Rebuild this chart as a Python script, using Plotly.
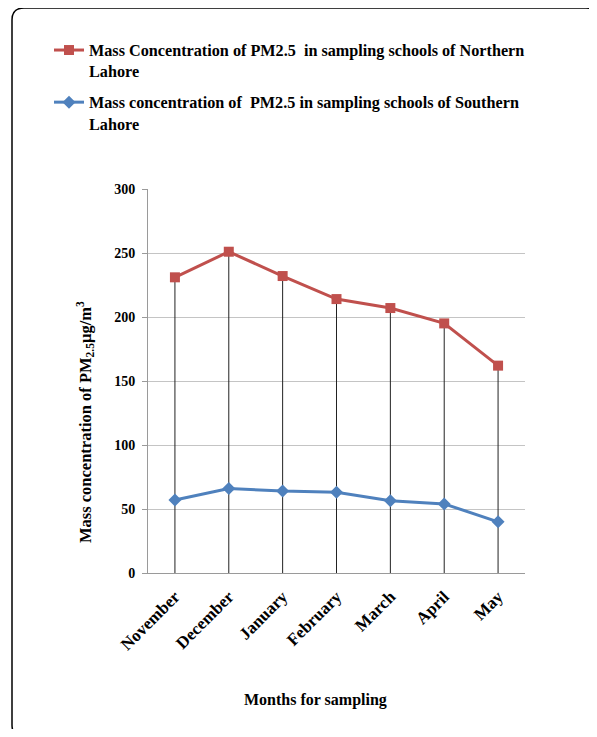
import plotly.graph_objects as go

months = ["November", "December", "January", "February", "March", "April", "May"]
northern = [231, 251, 232, 214, 207, 195, 162]
southern = [57, 66, 64, 63, 56.5, 54, 40]
name_north = "Mass Concentration of PM2.5  in sampling schools of Northern<br>Lahore"
name_south = "Mass concentration of  PM2.5 in sampling schools of Southern<br>Lahore"
y_ticks = [0, 50, 100, 150, 200, 250, 300]

OFF = 8  # page body margin
W, H = 597 - 2 * OFF, 737 - 2 * OFF
ML, MT = 148 - OFF, 189 - OFF
PW, PH = 377, 384
MR, MB = W - ML - PW, H - MT - PH

def px(x):
    return (x - OFF - ML) / PW

def py(y):
    return (H - MB - (y - OFF)) / PH

FONT = "Liberation Serif, Times New Roman, serif"

fig = go.Figure()

# high-low drop lines from the northern value to zero
dx, dy = [], []
for m, v in zip(months, northern):
    dx += [m, m, None]
    dy += [0, v, None]
fig.add_trace(go.Scatter(x=dx, y=dy, mode="lines", line=dict(color="#222222", width=1),
                         showlegend=False, hoverinfo="skip"))

fig.add_trace(go.Scatter(x=months, y=northern, name=name_north, mode="lines+markers",
                         line=dict(color="#C0504D", width=3),
                         marker=dict(symbol="square", size=10, color="#C0504D"),
                         legendgroup="n"))
fig.add_trace(go.Scatter(x=months, y=southern, name=name_south, mode="lines+markers",
                         line=dict(color="#4F81BD", width=3),
                         marker=dict(symbol="diamond", size=10, color="#4F81BD"),
                         legendgroup="s"))

# rounded frame
x0, x1, y0, y1 = px(12), px(598), py(737), py(8)
rx, ry = 12 / PW, 12 / PH
path = (f"M {x0+rx},{y1} L {x1-rx},{y1} Q {x1},{y1} {x1},{y1-ry} "
        f"L {x1},{y0+ry} Q {x1},{y0} {x1-rx},{y0} L {x0+rx},{y0} "
        f"Q {x0},{y0} {x0},{y0+ry} L {x0},{y1-ry} Q {x0},{y1} {x0+rx},{y1} Z")

fig.update_layout(
    width=W, height=H,
    margin=dict(l=ML, r=MR, t=MT, b=MB),
    paper_bgcolor="white", plot_bgcolor="white",
    font=dict(family=FONT, color="black", size=14, weight="bold"),
    shapes=[dict(type="path", xref="paper", yref="paper", path=path,
                 line=dict(color="black", width=1.5), layer="below")],
    legend=dict(x=px(49), y=py(33), xanchor="left", yanchor="top",
                font=dict(family=FONT, size=16.2, weight="bold"),
                traceorder="grouped", tracegroupgap=7, valign="top",
                bgcolor="rgba(0,0,0,0)"),
    showlegend=True,
    annotations=[
        dict(text="Months for sampling", xref="paper", yref="paper",
             x=px(315), y=py(700), xanchor="center", yanchor="middle", showarrow=False,
             font=dict(family=FONT, size=16, weight="bold")),
        dict(text="Mass concentration of PM<sub>2.5</sub>µg/m<sup>3</sup>",
             xref="paper", yref="paper", x=px(85), y=py(422), textangle=-90,
             xanchor="center", yanchor="middle",
             showarrow=False, font=dict(family=FONT, size=16.5, weight="bold")),
    ],
)
fig.update_xaxes(type="category", range=[-0.5, len(months) - 0.5], tickangle=-45,
                 showgrid=False, showline=True, linecolor="#9a9a9a", linewidth=1,
                 ticks="", ticklabelstandoff=6,
                 tickfont=dict(family=FONT, size=17, weight="bold"))
fig.update_yaxes(range=[0, 300], tickvals=y_ticks, showgrid=True, gridcolor="#c4c4c4",
                 gridwidth=1, showline=True, linecolor="#9a9a9a", linewidth=1,
                 ticks="outside", ticklen=5, tickcolor="#9a9a9a", zeroline=False,
                 ticklabelstandoff=4,
                 tickfont=dict(family=FONT, size=14, weight="bold"))

fig.write_html("out.html")
